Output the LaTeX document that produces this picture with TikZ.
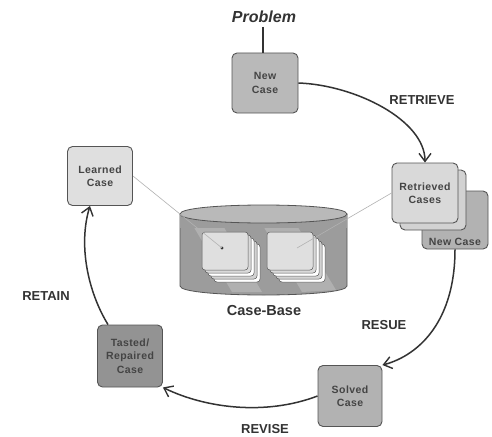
\documentclass[tikz,border=0pt]{standalone}
\usepackage{fontspec}
\setmainfont{Liberation Sans}
\usetikzlibrary{arrows.meta}
\definecolor{ink}{HTML}{333333}
\definecolor{boxink}{HTML}{444444}
\definecolor{boxline}{HTML}{555555}
\newfontfamily\wideface[LetterSpace=4]{Liberation Sans}
\tikzset{
  casebox/.style={draw=boxline, line width=0.9pt, rounded corners=5pt, fill=#1},
  boxtext/.style={font=\wideface\fontsize{10.5}{13.5}\selectfont\bfseries, text=boxink, align=center},
  steplabel/.style={font=\fontsize{13}{15}\selectfont\bfseries, text=ink},
  cycle/.style={draw=ink, line width=1.5pt, -{Straight Barb[length=8pt,width=12pt,line width=1.4pt]}},
  link/.style={draw=gray!60, line width=0.6pt},
  card/.style={draw=gray!70!black, line width=0.5pt, fill=#1, rounded corners=3pt},
}
\begin{document}
\begin{tikzpicture}[x=1pt,y=-1pt]
\useasboundingbox (0,0) rectangle (492,436);
\fill[white] (0,0) rectangle (492,436);

% Cylinder (case base)
\fill[gray!78] (180,214) -- (180,286) .. controls (180,298) and (347,298) .. (347,286) -- (347,214) -- cycle;
\draw[boxline, line width=0.8pt] (180,214) -- (180,286) .. controls (180,298) and (347,298) .. (347,286) -- (347,214);
\fill[gray!62] (192,224) -- (222,224) -- (262,292) -- (232,292) -- cycle;
\fill[gray!62] (262,224) -- (296,224) -- (336,290) -- (302,292) -- cycle;
\fill[gray!78] (180,214) -- (347,214) -- (347,228) -- (180,228) -- cycle;
\draw[boxline, line width=0.8pt, fill=gray!55] (180,214) .. controls (180,202) and (347,202) .. (347,214) .. controls (347,226) and (180,226) .. (180,214) -- cycle;

% card stacks
\foreach \d/\c in {12/white, 9/gray!35, 6/white, 3/gray!30} {
  \draw[card=\c] (202+\d,232+\d) rectangle (248+\d,270+\d);
  \draw[card=\c] (267+\d,232+\d) rectangle (313+\d,270+\d);
}
\node[draw=gray!70!black, line width=0.5pt, fill=gray!25, rounded corners=3pt, minimum width=46pt, minimum height=38pt, inner sep=0pt] (cardL) at (225,251) {};
\node[draw=gray!70!black, line width=0.5pt, fill=gray!25, rounded corners=3pt, minimum width=46pt, minimum height=38pt, inner sep=0pt] (cardR) at (290,251) {};
\coordinate (dotL) at (222,248);
\coordinate (dotR) at (297,248);
\fill[ink] (dotL) circle (1.6pt);

\node[font=\fontsize{14.5}{16}\selectfont\bfseries, text=ink] (cb) at (264,311) {Case-Base};

% Boxes
\node[casebox=gray!55, minimum width=66pt, minimum height=60pt] (new) at (265,83) {};
\node[boxtext] at (new) {New\\Case};

\node[casebox=gray!60, minimum width=66pt, minimum height=58pt] (newb) at (455,220) {};
\node[boxtext, anchor=south] at (455,249) {New Case};
\node[casebox=gray!35, minimum width=66pt, minimum height=60pt] (retmid) at (433,200) {};
\node[casebox=gray!30, minimum width=66pt, minimum height=60pt] (ret) at (425,193) {};
\node[boxtext] at (ret) {Retrieved\\Cases};

\node[casebox=gray!60, minimum width=64pt, minimum height=61pt] (solved) at (350,396) {};
\node[boxtext] at (solved) {Solved\\Case};

\node[casebox=gray!85, minimum width=65pt, minimum height=62pt] (tasted) at (130,356) {};
\node[boxtext] at (tasted) {Tasted/\\Repaired\\Case};

\node[casebox=gray!25, minimum width=65pt, minimum height=59pt] (learned) at (100,176) {};
\node[boxtext] at (learned) {Learned\\Case};

% Links to case base
\draw[link] (learned.east) -- (dotL);
\draw[link] (ret.west) -- (dotR);

% Problem
\node[font=\fontsize{16}{18}\selectfont\bfseries\itshape, text=ink] (prob) at (264,17) {Problem};
\coordinate (ptop) at (263,27);
\draw[ink, line width=1.2pt] (ptop) -- (ptop |- new.north);

% Cycle arrows
\draw[cycle] (new.east) .. controls (355,85) and (425,120) .. (ret.north);
\draw[cycle] (newb.south) .. controls (455,320) and (420,355) .. (solved.north east);
\draw[cycle] (solved.west) .. controls (265,416) and (205,408) .. (tasted.south east);
\draw[cycle] ([xshift=-22pt]tasted.north) .. controls (88,292) and (78,245) .. ([xshift=-10pt]learned.south);

% Step labels
\node[steplabel] (l1) at (422,100) {RETRIEVE};
\node[steplabel] (l2) at (384,325) {RESUE};
\node[steplabel] (l3) at (265,429) {REVISE};
\node[steplabel] (l4) at (46,296) {RETAIN};
\end{tikzpicture}
\end{document}
